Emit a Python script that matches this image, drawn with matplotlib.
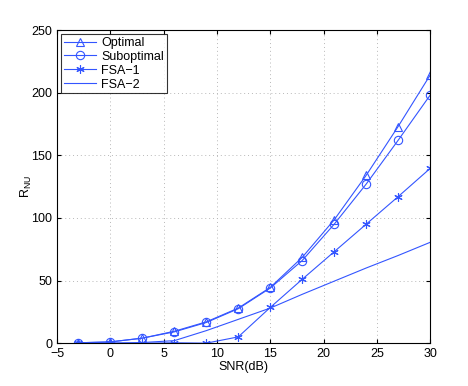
import matplotlib
matplotlib.use('Agg')
import matplotlib.pyplot as plt

plt.rcParams['font.family'] = ['Liberation Sans', 'DejaVu Sans']
plt.rcParams['mathtext.fontset'] = 'custom'
plt.rcParams['mathtext.rm'] = 'Liberation Sans'

### data ###
snr = [-3, 0, 3, 6, 9, 12, 15, 18, 21, 24, 27, 30]
optimal = [0.3, 1, 4, 9.5, 17, 28, 44.5, 68.5, 98.5, 134, 173, 214]
suboptimal = [0.3, 1, 4, 9, 16.5, 27.5, 44, 66, 95, 127, 162, 198]
fsa1 = [0, 0, 0, 0.3, 0, 5, 28.5, 51, 73, 95, 117, 139.5]
fsa2 = [0, 0, 0.5, 2, 10, 19, 28, 39, 49.5, 60, 70, 80.5]

fs = 9
col = '#3355ff'
asterisk = (6, 2, 0)

fig = plt.figure(figsize=(4.68, 3.86), dpi=100)
ax = fig.add_axes([0.122, 0.111, 0.797, 0.811])
ax.plot(snr, optimal, color=col, lw=0.8, marker='^', mfc='none', ms=6, mew=0.8, label='Optimal')
ax.plot(snr, suboptimal, color=col, lw=0.8, marker='o', mfc='none', ms=6, mew=0.8, label='Suboptimal')
ax.plot(snr, fsa1, color=col, lw=0.8, marker=asterisk, ms=6, mew=0.8, label='FSA\u22121')
ax.plot(snr, fsa2, color=col, lw=0.8, label='FSA\u22122')

ax.set_xlim([-5, 30])
ax.set_ylim([0, 250])
ax.set_xticks(range(-5, 31, 5))
ax.set_yticks(range(0, 251, 50))
ax.grid(True, linestyle=(0, (1, 3)), color='#b8b8b8', lw=0.7)
ax.tick_params(axis='both', direction='in', top=True, right=True, labelsize=fs, length=3)
for sp in ax.spines.values():
    sp.set_linewidth(0.8)
ax.set_xlabel('SNR(dB)', fontsize=fs, labelpad=1)
ax.set_ylabel(r'R$_{\mathrm{NU}}$', fontsize=fs, labelpad=-2)

leg = ax.legend(loc='upper left', fontsize=fs, fancybox=False, edgecolor='black',
                handlelength=2.6, handletextpad=0.4, borderpad=0.2, labelspacing=0.15,
                borderaxespad=0.35)
leg.get_frame().set_linewidth(0.8)

plt.savefig('out.png', dpi=100)
plt.close()
